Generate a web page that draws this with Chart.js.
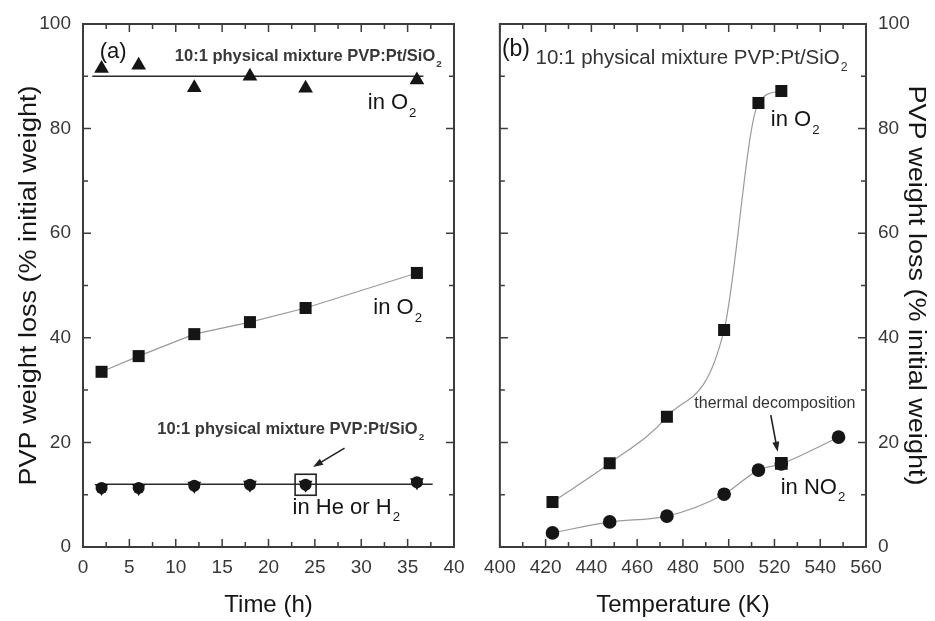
<!DOCTYPE html>
<html>
<head>
<meta charset="utf-8">
<script src="https://cdn.jsdelivr.net/npm/chart.js@4.4.0/dist/chart.umd.min.js"></script>
<style>
  html, body { margin: 0; padding: 0; background: #fff; }
  #wrap { position: relative; width: 935px; height: 621px; }
  #chartA { position: absolute; left: 0; top: 0; }
  #chartB { position: absolute; left: 475px; top: 0; }
</style>
</head>
<body>
<div id="wrap">
  <canvas id="chartA" width="475" height="621"></canvas>
  <canvas id="chartB" width="460" height="621"></canvas>
</div>
<script>
// (a) weight loss against time
var timeH = [2, 6, 12, 18, 24, 36];
var lossO2Mixture = [91.5, 92.1, 87.8, 90.0, 87.7, 89.3];
var lossO2 = [33.5, 36.5, 40.7, 43.0, 45.7, 52.4];
var lossHeH2 = [11.3, 11.3, 11.7, 11.9, 11.9, 12.4];
var mixtureFitTime = [1, 36.7];
var mixtureFitLoss = [90, 90];
var heFitTime = [2, 37.7];
var heFitLoss = [12, 12];

// (b) weight loss against temperature
var tempO2 = [423, 448, 473, 498, 513, 523];
var lossTempO2 = [8.6, 16.0, 24.9, 41.5, 84.9, 87.2];
var tempNO2 = [423, 448, 473, 498, 513, 523, 548];
var lossTempNO2 = [2.7, 4.8, 5.9, 10.1, 14.7, 15.9, 21.0];
var tempThermal = [523];
var lossThermal = [16.0];

var FONT = '"Liberation Sans", Arial, sans-serif';
var INK = '#151515';

function pts(xs, ys) {
  return xs.map(function(x, i) { return { x: x, y: ys[i] }; });
}

// frame round the plot with inward major/minor ticks on all four sides
var frameTicks = {
  id: 'frameTicks',
  afterDatasetsDraw: function(chart) {
    var ctx = chart.ctx, a = chart.chartArea;
    ctx.save();
    ctx.strokeStyle = '#3c3c3c';
    ctx.lineWidth = 1.5;
    function marks(scale, cb) {
      var vals = scale.ticks.map(function(t) { return t.value; });
      var half = (vals[1] - vals[0]) / 2;
      vals.forEach(function(v, i) {
        cb(scale.getPixelForValue(v), 8);
        if (i < vals.length - 1) cb(scale.getPixelForValue(v + half), 5);
      });
    }
    ctx.beginPath();
    marks(chart.scales.x, function(p, len) {
      ctx.moveTo(p, a.bottom); ctx.lineTo(p, a.bottom - len);
      ctx.moveTo(p, a.top); ctx.lineTo(p, a.top + len);
    });
    marks(chart.scales.y, function(p, len) {
      ctx.moveTo(a.left, p); ctx.lineTo(a.left + len, p);
      ctx.moveTo(a.right, p); ctx.lineTo(a.right - len, p);
    });
    ctx.stroke();
    ctx.lineWidth = 2;
    ctx.strokeRect(a.left, a.top, a.right - a.left, a.bottom - a.top);
    ctx.restore();
  }
};

function drawRich(ctx, x, y, parts, size, weight, color) {
  var cx = x;
  ctx.fillStyle = color;
  ctx.textBaseline = 'middle';
  ctx.textAlign = 'left';
  parts.forEach(function(p) {
    var sub = p[1] === 'sub';
    var fs = sub ? size * 0.6 : size;
    ctx.font = weight + ' ' + fs + 'px ' + FONT;
    ctx.fillText(p[0], cx + (sub ? 1 : 0), sub ? y + size * 0.45 : y);
    cx += ctx.measureText(p[0]).width;
  });
}

function drawArrow(ctx, x1, y1, x2, y2) {
  var ang = Math.atan2(y2 - y1, x2 - x1);
  var c = Math.cos(ang), s = Math.sin(ang);
  ctx.beginPath();
  ctx.moveTo(x1, y1);
  ctx.lineTo(x2 - 7 * c, y2 - 7 * s);
  ctx.stroke();
  ctx.beginPath();
  ctx.moveTo(x2, y2);
  ctx.lineTo(x2 - 10 * c + 3.5 * s, y2 - 10 * s - 3.5 * c);
  ctx.lineTo(x2 - 10 * c - 3.5 * s, y2 - 10 * s + 3.5 * c);
  ctx.closePath();
  ctx.fill();
}

// labels, arrows and highlight boxes placed in data units
function makeNotes(spec) {
  return {
    id: 'notes',
    afterDraw: function(chart) {
      var ctx = chart.ctx, xs = chart.scales.x, ys = chart.scales.y, a = chart.chartArea;
      ctx.save();
      (spec.labels || []).forEach(function(l) {
        drawRich(ctx, xs.getPixelForValue(l.x), ys.getPixelForValue(l.y), l.parts,
                 l.size, l.weight || 'normal', l.color || INK);
      });
      ctx.strokeStyle = '#222';
      ctx.fillStyle = '#222';
      ctx.lineWidth = 1.6;
      (spec.arrows || []).forEach(function(ar) {
        drawArrow(ctx, xs.getPixelForValue(ar.from[0]), ys.getPixelForValue(ar.from[1]),
                  xs.getPixelForValue(ar.to[0]), ys.getPixelForValue(ar.to[1]));
      });
      (spec.boxes || []).forEach(function(b) {
        var px = xs.getPixelForValue(b.x), py = ys.getPixelForValue(b.y);
        ctx.lineWidth = 1.6;
        ctx.strokeRect(px - b.half, py - b.half, 2 * b.half, 2 * b.half);
      });
      // axis titles
      ctx.fillStyle = INK;
      ctx.textAlign = 'center';
      ctx.textBaseline = 'middle';
      ctx.font = '24px ' + FONT;
      ctx.fillText(spec.xTitle, (a.left + a.right) / 2, 605);
      ctx.font = '23px ' + FONT;
      var w = ctx.measureText(spec.yTitle).width;
      ctx.translate(spec.yTitleX, (a.top + a.bottom) / 2);
      ctx.rotate(spec.yTitleRot);
      ctx.scale(400 / w, 1);
      ctx.fillText(spec.yTitle, 0, 0);
      ctx.restore();
    }
  };
}

var tickFont = { family: FONT, size: 19 };

function axisX(min, max, step) {
  return {
    type: 'linear', min: min, max: max,
    ticks: { stepSize: step, color: '#383838', font: tickFont, padding: 9, autoSkip: false, maxRotation: 0 },
    grid: { display: false, drawTicks: false },
    border: { display: false },
    afterFit: function(s) { s.height = 74; }
  };
}

function axisY(pos, width) {
  return {
    type: 'linear', min: 0, max: 100, position: pos,
    ticks: { stepSize: 20, color: '#383838', font: tickFont, padding: 12 },
    grid: { display: false, drawTicks: false },
    border: { display: false },
    afterFit: function(s) { s.width = width; }
  };
}

var common = {
  animation: false,
  responsive: false,
  events: [],
  plugins: { legend: { display: false }, tooltip: { enabled: false } }
};

new Chart(document.getElementById('chartA'), {
  type: 'scatter',
  data: {
    datasets: [
      { data: pts(timeH, lossO2Mixture), pointStyle: 'triangle', pointRadius: 8.5,
        pointBackgroundColor: INK, pointBorderColor: INK, pointBorderWidth: 0, showLine: false },
      { data: pts(mixtureFitTime, mixtureFitLoss), showLine: true, pointRadius: 0,
        borderColor: '#2a2a2a', borderWidth: 1.6 },
      { data: pts(timeH, lossO2), pointStyle: 'rect', pointRadius: 8.5,
        pointBackgroundColor: INK, pointBorderColor: INK, pointBorderWidth: 0,
        showLine: true, borderColor: '#9a9a9a', borderWidth: 1.2 },
      { data: pts(timeH, lossHeH2), pointStyle: 'circle', pointRadius: 6,
        pointBackgroundColor: INK, pointBorderColor: INK, pointBorderWidth: 0, showLine: false },
      { data: pts(timeH, lossHeH2), pointStyle: 'triangle', pointRotation: 180, pointRadius: 8,
        pointBackgroundColor: INK, pointBorderColor: INK, pointBorderWidth: 0, showLine: false },
      { data: pts(heFitTime, heFitLoss), showLine: true, pointRadius: 0,
        borderColor: '#2a2a2a', borderWidth: 1.6 }
    ]
  },
  options: Object.assign({}, common, {
    layout: { padding: { left: 0, right: 21, top: 24, bottom: 0 } },
    scales: { x: axisX(0, 40, 5), y: axisY('left', 83) }
  }),
  plugins: [frameTicks, makeNotes({
    xTitle: 'Time (h)',
    yTitle: 'PVP weight loss (% initial weight)',
    yTitleX: 30, yTitleRot: -Math.PI / 2,
    labels: [
      { x: 1.8, y: 94.6, parts: [['(a)']], size: 22 },
      { x: 9.9, y: 93.7, parts: [['10:1 physical mixture PVP:Pt/SiO'], ['2', 'sub']], size: 16.5, weight: 'bold', color: '#383838' },
      { x: 30.7, y: 84.9, parts: [['in O'], ['2', 'sub']], size: 22 },
      { x: 31.3, y: 45.7, parts: [['in O'], ['2', 'sub']], size: 22 },
      { x: 8.0, y: 22.4, parts: [['10:1 physical mixture PVP:Pt/SiO'], ['2', 'sub']], size: 16.5, weight: 'bold', color: '#383838' },
      { x: 22.6, y: 7.5, parts: [['in He or H'], ['2', 'sub']], size: 22 }
    ],
    arrows: [{ from: [28.2, 18.9], to: [24.8, 15.3] }],
    boxes: [{ x: timeH[4], y: lossHeH2[4], half: 10.5 }]
  })]
});

new Chart(document.getElementById('chartB'), {
  type: 'scatter',
  data: {
    datasets: [
      { data: pts(tempThermal, lossThermal), pointStyle: 'rect', pointRadius: 9,
        pointBackgroundColor: INK, pointBorderColor: INK, pointBorderWidth: 0, showLine: false },
      { data: pts(tempO2, lossTempO2), pointStyle: 'rect', pointRadius: 8.5,
        pointBackgroundColor: INK, pointBorderColor: INK, pointBorderWidth: 0,
        showLine: true, cubicInterpolationMode: 'monotone', borderColor: '#9a9a9a', borderWidth: 1.2 },
      { data: pts(tempNO2, lossTempNO2), pointStyle: 'circle', pointRadius: 6.8,
        pointBackgroundColor: INK, pointBorderColor: INK, pointBorderWidth: 0,
        showLine: true, cubicInterpolationMode: 'monotone', borderColor: '#9a9a9a', borderWidth: 1.2 }
    ]
  },
  options: Object.assign({}, common, {
    layout: { padding: { left: 22, right: 0, top: 24, bottom: 0 } },
    scales: { x: axisX(400, 560, 20), y: axisY('right', 69) }
  }),
  plugins: [frameTicks, makeNotes({
    xTitle: 'Temperature (K)',
    yTitle: 'PVP weight loss (% initial weight)',
    yTitleX: 440, yTitleRot: Math.PI / 2,
    labels: [
      { x: 400.9, y: 95.0, parts: [['(b)']], size: 23 },
      { x: 415.6, y: 93.5, parts: [['10:1 physical mixture PVP:Pt/SiO'], ['2', 'sub']], size: 20.5, color: '#333' },
      { x: 518.4, y: 81.6, parts: [['in O'], ['2', 'sub']], size: 22 },
      { x: 485, y: 27.5, parts: [['thermal decomposition']], size: 16, color: '#333' },
      { x: 522.7, y: 11.3, parts: [['in NO'], ['2', 'sub']], size: 22 }
    ],
    arrows: [{ from: [518.4, 25.2], to: [521.4, 18.2] }]
  })]
});
</script>
</body>
</html>
